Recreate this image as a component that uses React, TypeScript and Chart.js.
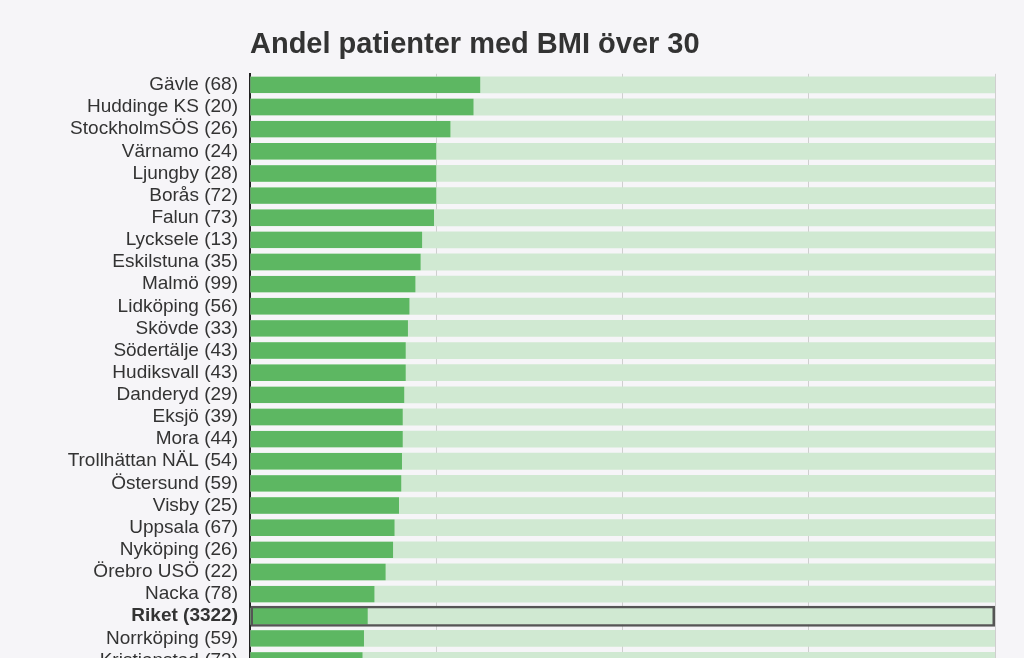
import React, { useEffect, useRef } from "react";
import { Chart, registerables } from "chart.js";

Chart.register(...registerables);

const hospitals = [
  "Gävle", "Huddinge KS", "StockholmSÖS", "Värnamo", "Ljungby", "Borås", "Falun",
  "Lycksele", "Eskilstuna", "Malmö", "Lidköping", "Skövde", "Södertälje", "Hudiksvall",
  "Danderyd", "Eksjö", "Mora", "Trollhättan NÄL", "Östersund", "Visby", "Uppsala",
  "Nyköping", "Örebro USÖ", "Nacka", "Riket", "Norrköping", "Kristianstad",
];
const patientCounts = [
  68, 20, 26, 24, 28, 72, 73, 13, 35, 99, 56, 33, 43, 43, 29, 39, 44, 54, 59, 25, 67,
  26, 22, 78, 3322, 59, 73,
];
const bmiOver30Pct = [
  30.9, 30.0, 26.9, 25.0, 25.0, 25.0, 24.7, 23.1, 22.9, 22.2, 21.4, 21.2, 20.9, 20.9,
  20.7, 20.5, 20.5, 20.4, 20.3, 20.0, 19.4, 19.2, 18.2, 16.7, 15.8, 15.3, 15.1,
];
const fullPct = [
  100, 100, 100, 100, 100, 100, 100, 100, 100, 100, 100, 100, 100, 100, 100, 100, 100,
  100, 100, 100, 100, 100, 100, 100, 100, 100, 100,
];
const riketFrame = [
  null, null, null, null, null, null, null, null, null, null, null, null, null, null,
  null, null, null, null, null, null, null, null, null, null, 100, null, null,
];
const xTicks = [0, 25, 50, 75, 100];
const highlight = "Riket";

const FONT = '"Liberation Sans", Arial, Helvetica, sans-serif';

export default function App() {
  const ref = useRef<HTMLCanvasElement | null>(null);

  useEffect(() => {
    if (!ref.current) return;
    const labels = hospitals.map((h, i) => `${h} (${patientCounts[i]})`);
    const chart = new Chart(ref.current, {
      type: "bar",
      data: {
        labels,
        datasets: [
          {
            label: "frame",
            data: riketFrame,
            backgroundColor: "rgba(0,0,0,0)",
            borderColor: "#555555",
            borderWidth: 2.5,
            borderSkipped: false,
            barPercentage: 0.95,
            categoryPercentage: 1,
            order: 0,
          },
          {
            label: "Andel BMI > 30",
            data: bmiOver30Pct,
            backgroundColor: "#5db762",
            borderWidth: 0,
            barPercentage: 0.74,
            categoryPercentage: 1,
            order: 1,
          },
          {
            label: "Totalt",
            data: fullPct,
            backgroundColor: "#d0e9d2",
            borderWidth: 0,
            barPercentage: 0.76,
            categoryPercentage: 1,
            order: 2,
          },
        ],
      },
      options: {
        indexAxis: "y",
        responsive: false,
        maintainAspectRatio: false,
        animation: false,
        devicePixelRatio: 1,
        layout: { padding: { left: 0, right: 29, top: 0, bottom: 0 } },
        datasets: { bar: { grouped: false } },
        plugins: {
          legend: { display: false },
          tooltip: { enabled: false },
          title: {
            display: true,
            text: "Andel patienter med BMI över 30",
            align: "start",
            fullSize: false,
            color: "#333333",
            font: { family: FONT, size: 29, weight: "bold", lineHeight: 1.2 },
            padding: { top: 28, bottom: 11 },
          },
        },
        scales: {
          x: {
            type: "linear",
            position: "bottom",
            min: 0,
            max: 100,
            afterBuildTicks: (scale: any) => {
              scale.ticks = xTicks.map((v) => ({ value: v }));
            },
            ticks: { display: false },
            grid: { color: "#cfcfcf", lineWidth: 1, drawTicks: false },
            border: { display: false },
          },
          y: {
            type: "category",
            position: "left",
            afterFit: (scale: any) => {
              scale.width = 250;
            },
            ticks: {
              color: "#333333",
              padding: 12,
              autoSkip: false,
              font: (ctx: any) => ({
                family: FONT,
                size: 19,
                weight: hospitals[ctx.index] === highlight ? "bold" : "normal",
              }),
            },
            grid: { display: true, color: "rgba(0,0,0,0)", drawTicks: false },
            border: { display: true, color: "#222222", width: 2 },
          },
        },
      },
    });
    return () => chart.destroy();
  }, []);

  return (
    <div
      style={{
        position: "fixed",
        left: 0,
        top: 0,
        width: 1024,
        height: 658,
        overflow: "hidden",
        background: "#f6f5f8",
      }}
    >
      <canvas ref={ref} width={1024} height={695} style={{ display: "block" }} />
    </div>
  );
}
